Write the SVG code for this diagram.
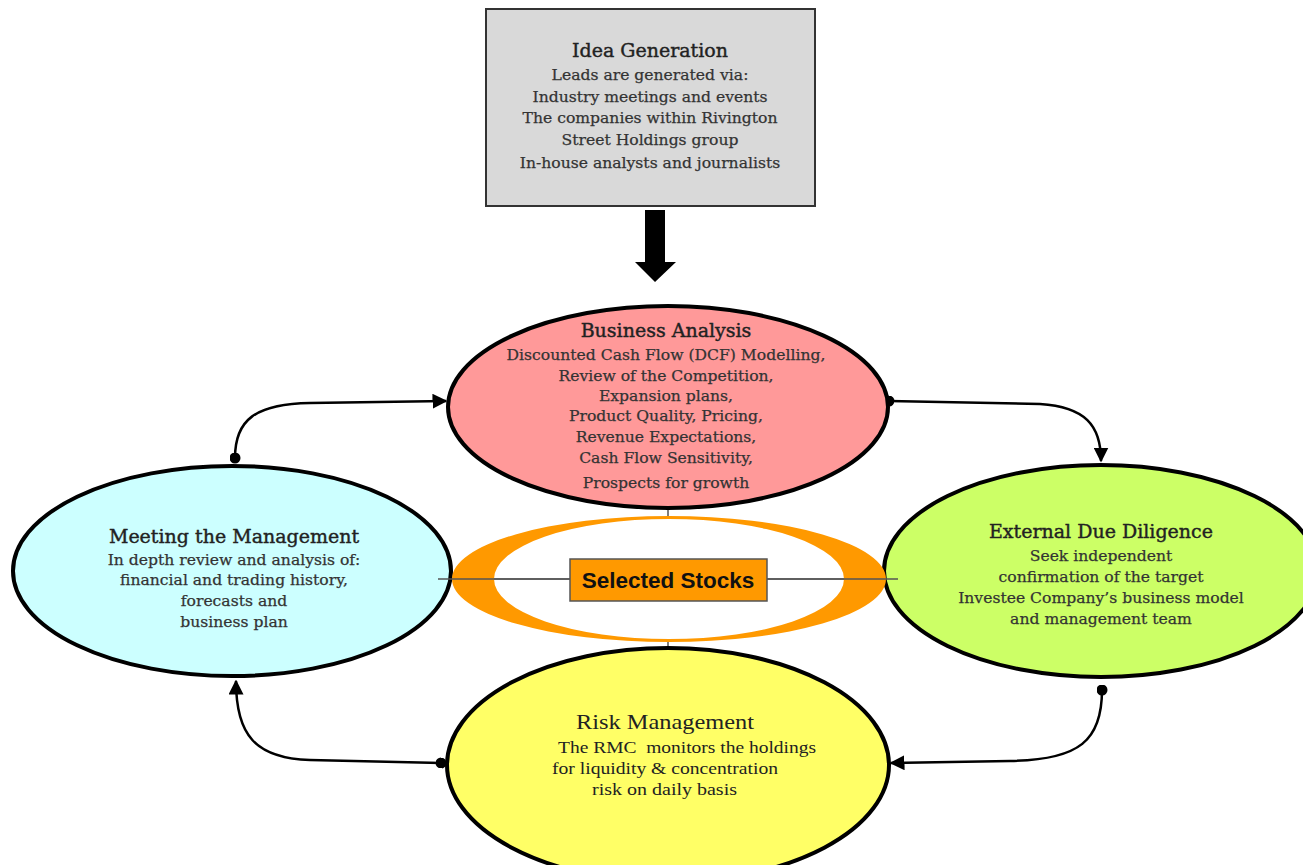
<svg xmlns="http://www.w3.org/2000/svg" width="1303" height="865" viewBox="0 0 1303 865">
<style>
  .ell{stroke:#000;stroke-width:4}
  .t{font-family:"DejaVu Serif","Liberation Serif",serif;text-anchor:middle;fill:#222}
  .title{font-size:19px;stroke:#222;stroke-width:0.4}
  .body{font-size:15.6px;fill:#333;stroke:#333;stroke-width:0.25}
  .rm{font-family:"Liberation Serif",serif;fill:#222}
  .conn{fill:none;stroke:#000;stroke-width:2.5}
</style>
<defs>
  <marker id="ah" viewBox="0 0 10 10" refX="9" refY="5" markerWidth="6" markerHeight="6" orient="auto" markerUnits="strokeWidth">
    <path d="M0,0 L10,5 L0,10 Z" fill="#000"/>
  </marker>
  <marker id="dot" viewBox="0 0 10 10" refX="5" refY="5" markerWidth="4.4" markerHeight="4.4" orient="auto" markerUnits="strokeWidth">
    <circle cx="5" cy="5" r="5" fill="#000"/>
  </marker>
</defs>
<rect width="1303" height="865" fill="#fff"/>

<g id="idea-generation">
  <rect x="486" y="9" width="329" height="197" fill="#d9d9d9" stroke="#333" stroke-width="2"/>
  <text class="t title" x="650" y="57">Idea Generation</text>
  <text class="t body" x="650" y="80" font-size="16.3">Leads are generated via:</text>
  <text class="t body" x="650" y="102" font-size="16.3">Industry meetings and events</text>
  <text class="t body" x="650" y="123" font-size="16.3">The companies within Rivington</text>
  <text class="t body" x="650" y="145" font-size="16.3">Street Holdings group</text>
  <text class="t body" x="650" y="168" font-size="16.3">In-house analysts and journalists</text>
</g>

<g id="block-arrow">
  <path d="M645,210 L665,210 L665,262 L676,262 L655,282 L635,262 L645,262 Z" fill="#000"/>
</g>

<g id="connectors">
  <line x1="438" y1="579" x2="898" y2="579" stroke="#555" stroke-width="1.5"/>
  <line x1="668" y1="508" x2="668" y2="519" stroke="#555" stroke-width="1.5"/>
  <line x1="668" y1="639" x2="668" y2="651" stroke="#555" stroke-width="1.5"/>
  <path class="conn" d="M235,458 C235,420 255,404 310,403 L446,401" marker-start="url(#dot)" marker-end="url(#ah)"/>
  <path class="conn" d="M889,401 L1040,404 C1085,407 1101,425 1101,461" marker-start="url(#dot)" marker-end="url(#ah)"/>
  <path class="conn" d="M1102,690 C1102,740 1080,760 1010,761 L891,763" marker-start="url(#dot)" marker-end="url(#ah)"/>
  <path class="conn" d="M441,763 L310,760 C255,758 236,735 236,681" marker-start="url(#dot)" marker-end="url(#ah)"/>
</g>

<g id="business-analysis">
  <ellipse class="ell" cx="668" cy="407" rx="220" ry="101" fill="#ff9999"/>
  <text class="t title" x="666" y="337" font-size="21">Business Analysis</text>
  <text class="t body" x="666" y="360">Discounted Cash Flow (DCF) Modelling,</text>
  <text class="t body" x="666" y="381">Review of the Competition,</text>
  <text class="t body" x="666" y="401">Expansion plans,</text>
  <text class="t body" x="666" y="421">Product Quality, Pricing,</text>
  <text class="t body" x="666" y="442">Revenue Expectations,</text>
  <text class="t body" x="666" y="463">Cash Flow Sensitivity,</text>
  <text class="t body" x="666" y="488">Prospects for growth</text>
</g>

<g id="meeting-the-management">
  <ellipse class="ell" cx="232" cy="571" rx="219" ry="105" fill="#ccffff"/>
  <text class="t title" x="234" y="543">Meeting the Management</text>
  <text class="t body" x="234" y="565">In depth review and analysis of:</text>
  <text class="t body" x="234" y="585">financial and trading history,</text>
  <text class="t body" x="234" y="606">forecasts and</text>
  <text class="t body" x="234" y="627">business plan</text>
</g>

<g id="external-due-diligence">
  <ellipse class="ell" cx="1101" cy="571" rx="217" ry="106" fill="#ccff66"/>
  <text class="t title" x="1101" y="538">External Due Diligence</text>
  <text class="t body" x="1101" y="561">Seek independent</text>
  <text class="t body" x="1101" y="582">confirmation of the target</text>
  <text class="t body" x="1101" y="603">Investee Company’s business model</text>
  <text class="t body" x="1101" y="624">and management team</text>
</g>

<g id="risk-management">
  <ellipse class="ell" cx="668" cy="765" rx="221" ry="117" fill="#ffff66"/>
  <text class="rm" x="576" y="729" font-size="22" textLength="178" lengthAdjust="spacingAndGlyphs">Risk Management</text>
  <text class="rm" x="558" y="753" font-size="17" textLength="258" lengthAdjust="spacingAndGlyphs" xml:space="preserve">The RMC  monitors the holdings</text>
  <text class="rm" x="552" y="774" font-size="17" textLength="226" lengthAdjust="spacingAndGlyphs">for liquidity &amp; concentration</text>
  <text class="rm" x="592" y="795" font-size="17" textLength="145" lengthAdjust="spacingAndGlyphs">risk on daily basis</text>
</g>

<g id="selected-stocks">
  <path d="M452,579 A217,63 0 1,0 886,579 A217,63 0 1,0 452,579 Z M494,579 A175,60 0 1,0 844,579 A175,60 0 1,0 494,579 Z" fill="#ff9900" fill-rule="evenodd"/>
  <line x1="438" y1="579" x2="570" y2="579" stroke="#555" stroke-width="1.5"/>
  <line x1="767" y1="579" x2="898" y2="579" stroke="#555" stroke-width="1.5"/>
  <rect x="570" y="559" width="197" height="42" fill="#ff9900" stroke="#555" stroke-width="1.5"/>
  <text x="668" y="588" text-anchor="middle" font-family="Liberation Sans, Arial, sans-serif" font-weight="bold" font-size="22.5" fill="#111">Selected Stocks</text>
</g>
</svg>
